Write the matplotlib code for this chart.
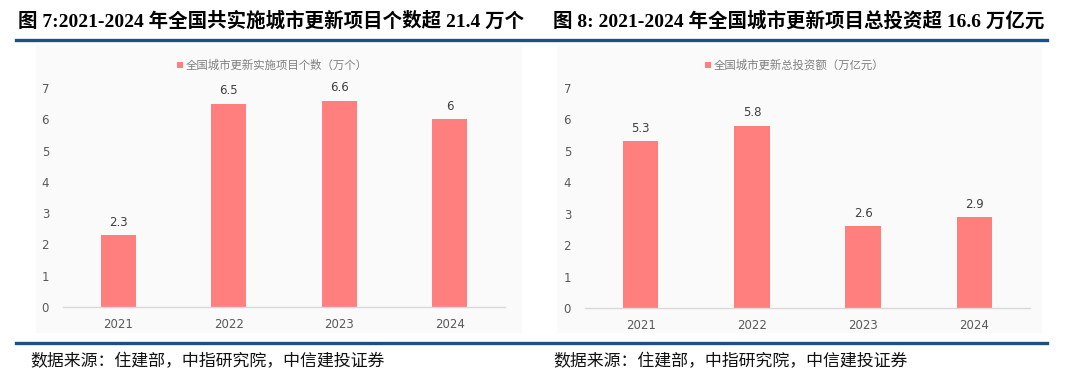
import matplotlib
matplotlib.use("Agg")
import matplotlib.pyplot as plt
from matplotlib.patches import Rectangle
from matplotlib.lines import Line2D

plt.rcParams['font.family'] = ['DejaVu Sans', 'Noto Sans CJK SC']

# --- dane ---
lata = ["2021", "2022", "2023", "2024"]
projekty = [2.3, 6.5, 6.6, 6]
inwestycje = [5.3, 5.8, 2.6, 2.9]
etykiety_proj = ["2.3", "6.5", "6.6", "6"]
etykiety_inw = ["5.3", "5.8", "2.6", "2.9"]

tytul_l = "图 7:2021-2024 年全国共实施城市更新项目个数超 21.4 万个"
tytul_p = "图 8: 2021-2024 年全国城市更新项目总投资超 16.6 万亿元"
legenda_l = "全国城市更新实施项目个数（万个）"
legenda_p = "全国城市更新总投资额（万亿元）"
zrodlo = "数据来源：住建部，中指研究院，中信建投证券"

W, H = 1080, 378
kolor_bar = "#ff7f7f"
niebieski = "#1c5083"

fig = plt.figure(figsize=(W / 100, H / 100), dpi=100)


def px(x, y):
    return x / W, 1 - y / H


# tla wykresow
for (x0, y0, x1, y1) in [(36, 45, 522, 333), (557, 45, 1042, 333)]:
    fig.patches.append(Rectangle(px(x0, y1), (x1 - x0) / W, (y1 - y0) / H,
                                 transform=fig.transFigure, facecolor="#fafafa",
                                 edgecolor="none", zorder=-5))

# linie niebieskie
for y in [40, 343]:
    fig.lines.append(Line2D([16 / W, 1047 / W], [1 - y / H, 1 - y / H],
                            transform=fig.transFigure, color=niebieski, lw=2.4))

tfont = ['Liberation Serif', 'Noto Sans CJK SC']
fig.text(*px(18, 21), tytul_l, family=tfont, weight="bold", fontsize=14,
         va="center", ha="left")
fig.text(*px(553, 21), tytul_p, family=tfont, weight="bold", fontsize=14,
         va="center", ha="left")
for x in [30, 553]:
    fig.text(*px(x, 361), zrodlo, family=['Noto Sans CJK SC'], style="italic",
             fontsize=12.2, va="center", ha="left", color="#111111")


def rysuj(ax, wart, etyk, leg):
    ax.set_facecolor("none")
    ax.bar(range(4), wart, width=0.32, color=kolor_bar, zorder=2)
    for i in range(4):
        ax.text(i, wart[i] + 0.2, etyk[i], ha="center", va="bottom",
                fontsize=8.5, color="#404040")
    ax.set_xlim(-0.5, 3.5)
    ax.set_ylim(0, 7)
    ax.set_yticks(range(8))
    ax.set_xticks(range(4))
    ax.set_xticklabels(lata)
    ax.tick_params(length=0, labelsize=8.5, labelcolor="#595959")
    ax.tick_params(axis="y", pad=10)
    ax.tick_params(axis="x", pad=8)
    for s in ["top", "right", "left"]:
        ax.spines[s].set_visible(False)
    ax.spines["bottom"].set_color("#d9d9d9")
    ax.spines["bottom"].set_linewidth(1)


ax1 = fig.add_axes([63 / W, 71 / H, 442 / W, 219 / H])
rysuj(ax1, projekty, etykiety_proj, legenda_l)
ax2 = fig.add_axes([585 / W, 70 / H, 445 / W, 220 / H])
rysuj(ax2, inwestycje, etykiety_inw, legenda_p)

# legendy
for (xm, tekst) in [(180, legenda_l), (708, legenda_p)]:
    fig.patches.append(Rectangle(px(xm - 3, 68), 6 / W, 6 / H,
                                 transform=fig.transFigure, facecolor=kolor_bar,
                                 edgecolor="none"))
    fig.text(*px(xm + 6, 65), tekst, family=['Noto Sans CJK SC'], fontsize=8.2,
             color="#7f7f7f", va="center", ha="left")

plt.savefig("out.png", dpi=100)
